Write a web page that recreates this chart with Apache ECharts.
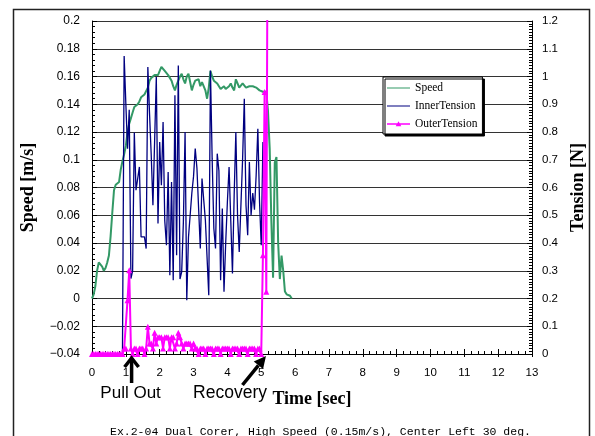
<!DOCTYPE html>
<html><head><meta charset="utf-8">
<script src="https://cdn.jsdelivr.net/npm/echarts@6/dist/echarts.min.js"></script>
<style>html,body{margin:0;padding:0;background:#fff}#c{width:595px;height:436px}</style>
</head><body><div id="c"></div>
<script>
// sampling interval of the recorded data [s]
const sampleStep = 0.05;

// Speed [m/s], from t = 0
const speed = [
 0.000,0.003,0.009,0.020,0.026,0.027,0.023,0.020,0.022,0.026,
 0.031,0.045,0.062,0.078,0.082,0.082,0.084,0.093,0.099,0.104,
 0.110,0.120,0.126,0.130,0.134,0.138,0.139,0.140,0.142,0.145,
 0.146,0.147,0.147,0.152,0.157,0.159,0.158,0.161,0.160,0.161,
 0.164,0.167,0.166,0.164,0.163,0.161,0.159,0.157,0.153,0.150,
 0.154,0.157,0.160,0.162,0.158,0.155,0.160,0.162,0.163,0.150,
 0.154,0.157,0.158,0.158,0.153,0.156,0.157,0.150,0.144,0.152,
 0.164,0.160,0.157,0.156,0.155,0.153,0.151,0.152,0.153,0.151,
 0.150,0.153,0.155,0.152,0.150,0.158,0.155,0.152,0.153,0.155,
 0.154,0.152,0.153,0.153,0.152,0.153,0.152,0.152,0.151,0.150,
 0.150,0.149,0.149,0.149,0.135,0.108,0.055,0.015,0.098,0.102,
 0.040,0.014,0.031,0.020,0.005,0.003,0.002,0.002,0.000
];

// Inner tension [N], from t = 0
const innerTension = [
 0,0,0,0,0,0,0,0,0,0,0,0,0,0,0,0,0,0,0,
 1.074,0.902,0.740,0.880,0.272,0.300,0.798,0.590,0.590,0.674,
 0.422,0.422,0.422,0.380,1.034,0.866,0.716,0.536,0.536,0.998,
 0.470,0.764,0.608,0.836,0.480,0.392,0.656,0.284,0.620,0.266,
 0.932,0.356,1.040,0.270,0.296,0.476,0.800,0.194,0.420,0.500,
 0.580,0.640,0.740,0.670,0.524,0.380,0.632,0.632,0.482,0.482,
 0.212,1.022,0.704,0.452,0.380,0.722,0.660,0.266,0.524,0.224,
 0.400,0.548,0.674,0.674,0.290,0.570,0.800,0.500,0.368,0.370,
 0.704,0.920,0.536,0.428,0.692,0.500,0.580,0.520,0.644,0.812,
 0.548,0.392,0.764,0.620
];

// Outer tension [N], from t = 0
const outerTension = [
 0,0,0,0,0,0,0,0,0,0,0,0,0,0,0,0,0,0,0,
 0.02,0.02,0.194,0.302,0.02,0.00,0.02,0.02,0.00,0.02,
 0.02,0.02,0.00,0.02,0.098,0.038,0.038,0.02,0.077,0.038,
 0.06,0.06,0.06,0.02,0.06,0.06,0.06,0.02,0.06,0.06,
 0.02,0.038,0.077,0.06,0.038,0.02,0.038,0.038,0.038,0.038,
 0.02,0.038,0.02,0.02,0.00,0.02,0.02,0.02,0.00,0.02,
 0.02,0.02,0.02,0.00,0.02,0.02,0.02,0.00,0.02,0.02,
 0.02,0.02,0.02,0.00,0.02,0.02,0.02,0.02,0.00,0.02,
 0.02,0.02,0.02,0.00,0.02,0.02,0.02,0.02,0.00,0.02,
 0.02,0.00,0.356,0.944,0.224,2.0
];

const seriesNames = ['Speed','InnerTension','OuterTension'];
const xName = 'Time [sec]';
const leftName = 'Speed [m/s]';
const rightName = 'Tension [N]';
const caption = 'Ex.2-04 Dual Corer, High Speed (0.15m/s), Center Left 30 deg.';
const pullOutTime = 1.17, recoveryTime = 5.14;

const toPairs = arr => arr.map((v, i) => [+(i * sampleStep).toFixed(2), v]);

const sans = 'Liberation Sans, Arial, sans-serif';
const serif = 'Liberation Serif, Times New Roman, serif';

// legend icons: a thin line (bounding box fixed by tiny corner specks), optionally with a triangle
const bbox = ' M0,0H0.01V0.01H0Z M23,8H22.99V7.99H23Z';
const lineIcon = 'path://M0,3.4H23V4.6H0Z' + bbox;
const lineTriIcon = 'path://M0,3.3H23V4.7H0Z M11.5,1.2L14.3,6.2H8.7Z' + bbox;

const commonTick = { inside: true, length: 5, lineStyle: { color: '#000' } };

const option = {
  animation: false,
  backgroundColor: '#fff',
  grid: { left: 92, right: 63, top: 21, bottom: 82, containLabel: false, outerBoundsMode: 'none' },
  legend: {
    orient: 'vertical', left: 383, top: 77,
    itemWidth: 23, itemHeight: 8, itemGap: 6,
    padding: [5, 5, 4, 4],
    backgroundColor: '#fff', borderColor: '#000', borderWidth: 1, borderRadius: 0,
    shadowColor: '#000', shadowBlur: 0, shadowOffsetX: 2, shadowOffsetY: 2,
    textStyle: { fontFamily: serif, fontSize: 11.5, color: '#000' },
    data: [
      { name: seriesNames[0], icon: lineIcon },
      { name: seriesNames[1], icon: lineIcon },
      { name: seriesNames[2], icon: lineTriIcon }
    ]
  },
  xAxis: [{
    type: 'value', min: 0, max: 13, interval: 1, position: 'bottom',
    name: xName, nameLocation: 'middle', nameGap: 36,
    nameTextStyle: { fontFamily: serif, fontWeight: 'bold', fontSize: 18, color: '#000' },
    axisLine: { onZero: false, lineStyle: { color: '#000', width: 1 } },
    axisTick: commonTick,
    minorTick: { show: true, splitNumber: 5, length: 3, lineStyle: { color: '#000' } },
    axisLabel: { fontFamily: sans, fontSize: 11.5, color: '#000', margin: 13, showMinLabel: true, showMaxLabel: true },
    splitLine: { show: false }
  }, {
    // outward half of the crossing major ticks
    type: 'value', min: 0, max: 13, interval: 1, position: 'bottom', offset: 0,
    axisLine: { show: false, onZero: false },
    axisTick: { show: true, inside: false, length: 3, lineStyle: { color: '#000' } },
    axisLabel: { show: false }, splitLine: { show: false }
  }],
  yAxis: [{
    type: 'value', min: -0.04, max: 0.2, interval: 0.02, position: 'left',
    name: leftName, nameLocation: 'middle', nameGap: 55, nameRotate: 90,
    nameTextStyle: { fontFamily: serif, fontWeight: 'bold', fontSize: 18, color: '#000' },
    axisLine: { show: true, onZero: false, lineStyle: { color: '#000', width: 1 } },
    axisTick: commonTick,
    minorTick: { show: true, splitNumber: 5, length: 3, lineStyle: { color: '#000' } },
    axisLabel: { fontFamily: sans, fontSize: 12, color: '#000', margin: 12,
      formatter: v => String(+v.toFixed(2)).replace('-', '\u2212') },
    splitLine: { show: true, lineStyle: { color: '#333', width: 1 } }
  }, {
    type: 'value', min: 0, max: 1.2, interval: 0.1, position: 'right',
    name: rightName, nameLocation: 'middle', nameGap: 34, nameRotate: 90,
    nameTextStyle: { fontFamily: serif, fontWeight: 'bold', fontSize: 18, color: '#000' },
    axisLine: { show: true, onZero: false, lineStyle: { color: '#000', width: 1 } },
    axisTick: commonTick,
    minorTick: { show: true, splitNumber: 10, length: 3, lineStyle: { color: '#000' } },
    axisLabel: { fontFamily: sans, fontSize: 11.5, color: '#000', margin: 10,
      formatter: v => String(+v.toFixed(1)) },
    splitLine: { show: false }
  }],
  series: [{
    name: seriesNames[0], type: 'line', xAxisIndex: 0, yAxisIndex: 0, data: toPairs(speed),
    symbol: 'none', lineStyle: { color: '#339966', width: 2 }, itemStyle: { color: '#339966' }, z: 2
  }, {
    name: seriesNames[1], type: 'line', xAxisIndex: 0, yAxisIndex: 1, data: toPairs(innerTension),
    symbol: 'none', lineStyle: { color: '#000080', width: 1.3 }, itemStyle: { color: '#000080' }, z: 3
  }, {
    name: seriesNames[2], type: 'line', xAxisIndex: 0, yAxisIndex: 1, data: toPairs(outerTension),
    symbol: 'triangle', symbolSize: 6, showSymbol: true,
    lineStyle: { color: '#ff00ff', width: 2 }, itemStyle: { color: '#ff00ff' }, z: 4, clip: true
  }]
};

const chart = echarts.init(document.getElementById('c'));
chart.setOption(option);

const pull = chart.convertToPixel({ xAxisIndex: 0, yAxisIndex: 0 }, [pullOutTime, -0.04]);
const rec = chart.convertToPixel({ xAxisIndex: 0, yAxisIndex: 0 }, [recoveryTime, -0.04]);

// recovery arrow geometry
const tail = [rec[0] - 23.5, rec[1] + 31];
const tip = [rec[0], rec[1] + 2];
const dx = tip[0] - tail[0], dy = tip[1] - tail[1];
const L = Math.hypot(dx, dy), ux = dx / L, uy = dy / L, nx = -uy, ny = ux;
const base = [tip[0] - 12 * ux, tip[1] - 12 * uy];

chart.setOption({
  graphic: [
    { type: 'rect', shape: { x: 13.5, y: 9.5, width: 576, height: 450 },
      style: { fill: null, stroke: '#222', lineWidth: 1.5 }, silent: true, z: 0 },
    // Pull Out arrow
    { type: 'line', shape: { x1: pull[0], y1: pull[1] + 29, x2: pull[0], y2: pull[1] + 4 },
      style: { stroke: '#000', lineWidth: 3.5 }, z: 10 },
    { type: 'polyline', shape: { points: [[pull[0] - 7, pull[1] + 13], [pull[0], pull[1] + 4], [pull[0] + 7, pull[1] + 13]] },
      style: { stroke: '#000', lineWidth: 3.5, fill: null }, z: 10 },
    { type: 'text', x: pull[0] - 1, y: 393,
      style: { text: 'Pull Out', font: '17px ' + sans, fill: '#000', textAlign: 'center', textVerticalAlign: 'middle' }, z: 10 },
    // Recovery arrow
    { type: 'line', shape: { x1: tail[0], y1: tail[1], x2: base[0], y2: base[1] },
      style: { stroke: '#000', lineWidth: 3.5 }, z: 10 },
    { type: 'polygon', shape: { points: [tip, [base[0] + 6 * nx, base[1] + 6 * ny], [base[0] - 6 * nx, base[1] - 6 * ny]] },
      style: { fill: '#000' }, z: 10 },
    { type: 'text', x: rec[0] + 1, y: 393,
      style: { text: 'Recovery', font: '17.5px ' + sans, fill: '#000', textAlign: 'right', textVerticalAlign: 'middle' }, z: 10 },
    // caption
    { type: 'text', x: 110, y: 426,
      style: { text: caption, font: '11.5px Liberation Mono, monospace', fill: '#000', textAlign: 'left', textVerticalAlign: 'top' }, z: 10 }
  ]
});
</script>
</body></html>
